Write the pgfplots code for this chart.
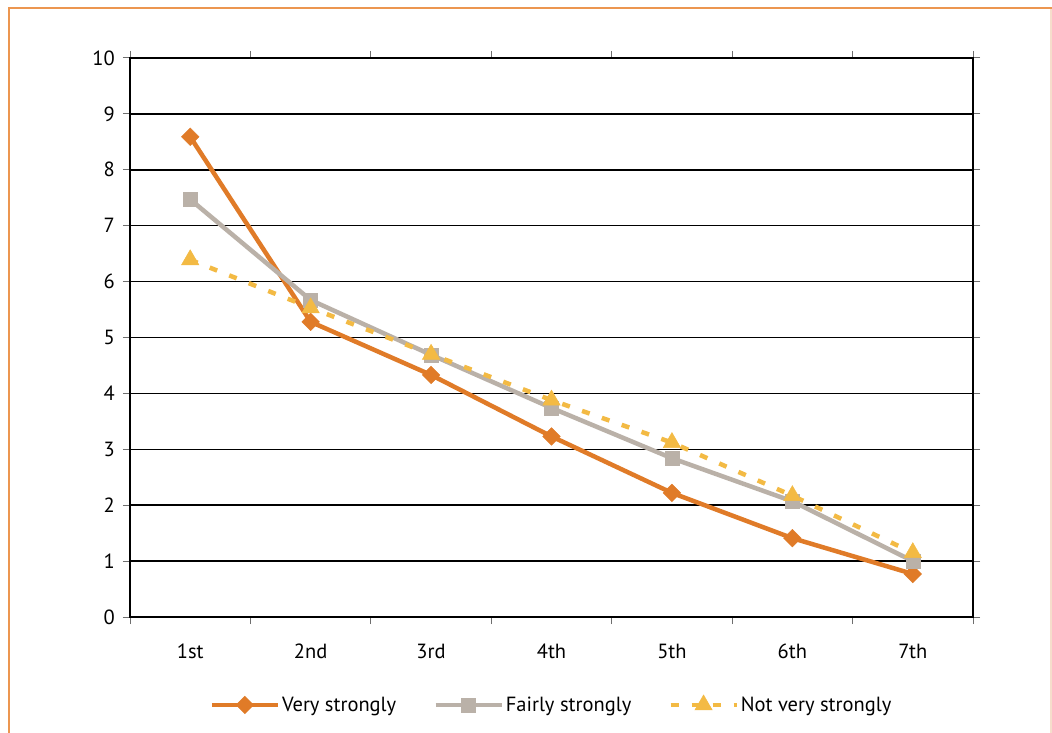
\documentclass[border=0pt]{standalone}
\usepackage{fontspec}
\setmainfont{PT Sans}
\usepackage{pgfplots}
\pgfplotsset{compat=1.18}
\definecolor{cVery}{RGB}{224,123,40}
\definecolor{cFair}{RGB}{186,177,168}
\definecolor{cNot}{RGB}{243,186,68}
\definecolor{cFrame}{RGB}{236,150,80}
\definecolor{cFrameL}{RGB}{246,222,204}
\definecolor{cTick}{RGB}{110,110,110}
\begin{document}
\begin{tikzpicture}
\useasboundingbox (0,0) rectangle (1052bp,733bp);
\fill[white] (0,0) rectangle (1052bp,733bp);
\draw[cFrame, line width=2bp] (8.5bp,0) -- (8.5bp,725bp) -- (1052bp,725bp);
\draw[cFrameL, line width=1.5bp] (1051bp,0) -- (1051bp,724bp);
\begin{axis}[
  at={(130bp,116bp)}, anchor=south west,
  scale only axis, width=843bp, height=559bp,
  xmin=0.5, xmax=7.5, ymin=0, ymax=10,
  xtick={0.5,1.5,...,7.5},
  x tick label as interval,
  xticklabels={1st,2nd,3rd,4th,5th,6th,7th},
  ytick={0,1,...,10},
  tick align=outside,
  major tick length=7bp,
  tick style={cTick, line width=1bp},
  axis line style={black, line width=1.8bp},
  ymajorgrids,
  major grid style={black, line width=1.5bp},
  every tick label/.append style={font=\fontsize{20.5bp}{24bp}\selectfont, text=black},
  /pgf/number format/assume math mode=true,
  yticklabel style={inner sep=0pt, xshift=-8bp},
  xticklabel style={inner sep=0pt, yshift=-20bp},
  legend columns=3,
  legend cell align=left,
  legend style={at={(0.5,-0.1574)}, anchor=center, draw=none, fill=none,
    font=\fontsize{20.5bp}{24bp}\selectfont,
    nodes={inner sep=2bp},
    /tikz/every even column/.append style={column sep=35bp}},
  legend image code/.code={\draw[mark repeat=2,mark phase=2] plot coordinates {(0bp,0bp) (33bp,0bp) (66bp,0bp)};},
]
\addplot[cVery, line width=4.5bp, mark=square*, mark size=6.2bp, mark options={rotate=45, solid, fill=cVery, draw=cVery, line width=0.5bp}]
  coordinates {(1,8.59) (2,5.28) (3,4.33) (4,3.23) (5,2.22) (6,1.41) (7,0.77)};
\addlegendentry{Very strongly}
\addplot[cFair, line width=4.5bp, mark=square*, mark size=7bp, mark options={solid, fill=cFair, draw=cFair, line width=0.5bp}]
  coordinates {(1,7.47) (2,5.67) (3,4.69) (4,3.74) (5,2.84) (6,2.07) (7,1.00)};
\addlegendentry{Fairly strongly}
\addplot[cNot, line width=4.5bp, dash pattern=on 8bp off 13bp, mark=triangle*, mark size=10bp, mark options={solid, fill=cNot, draw=cNot, line width=0.5bp}]
  coordinates {(1,6.39) (2,5.53) (3,4.70) (4,3.88) (5,3.12) (6,2.17) (7,1.15)};
\addlegendentry{Not very strongly}
\end{axis}
\end{tikzpicture}
\end{document}
